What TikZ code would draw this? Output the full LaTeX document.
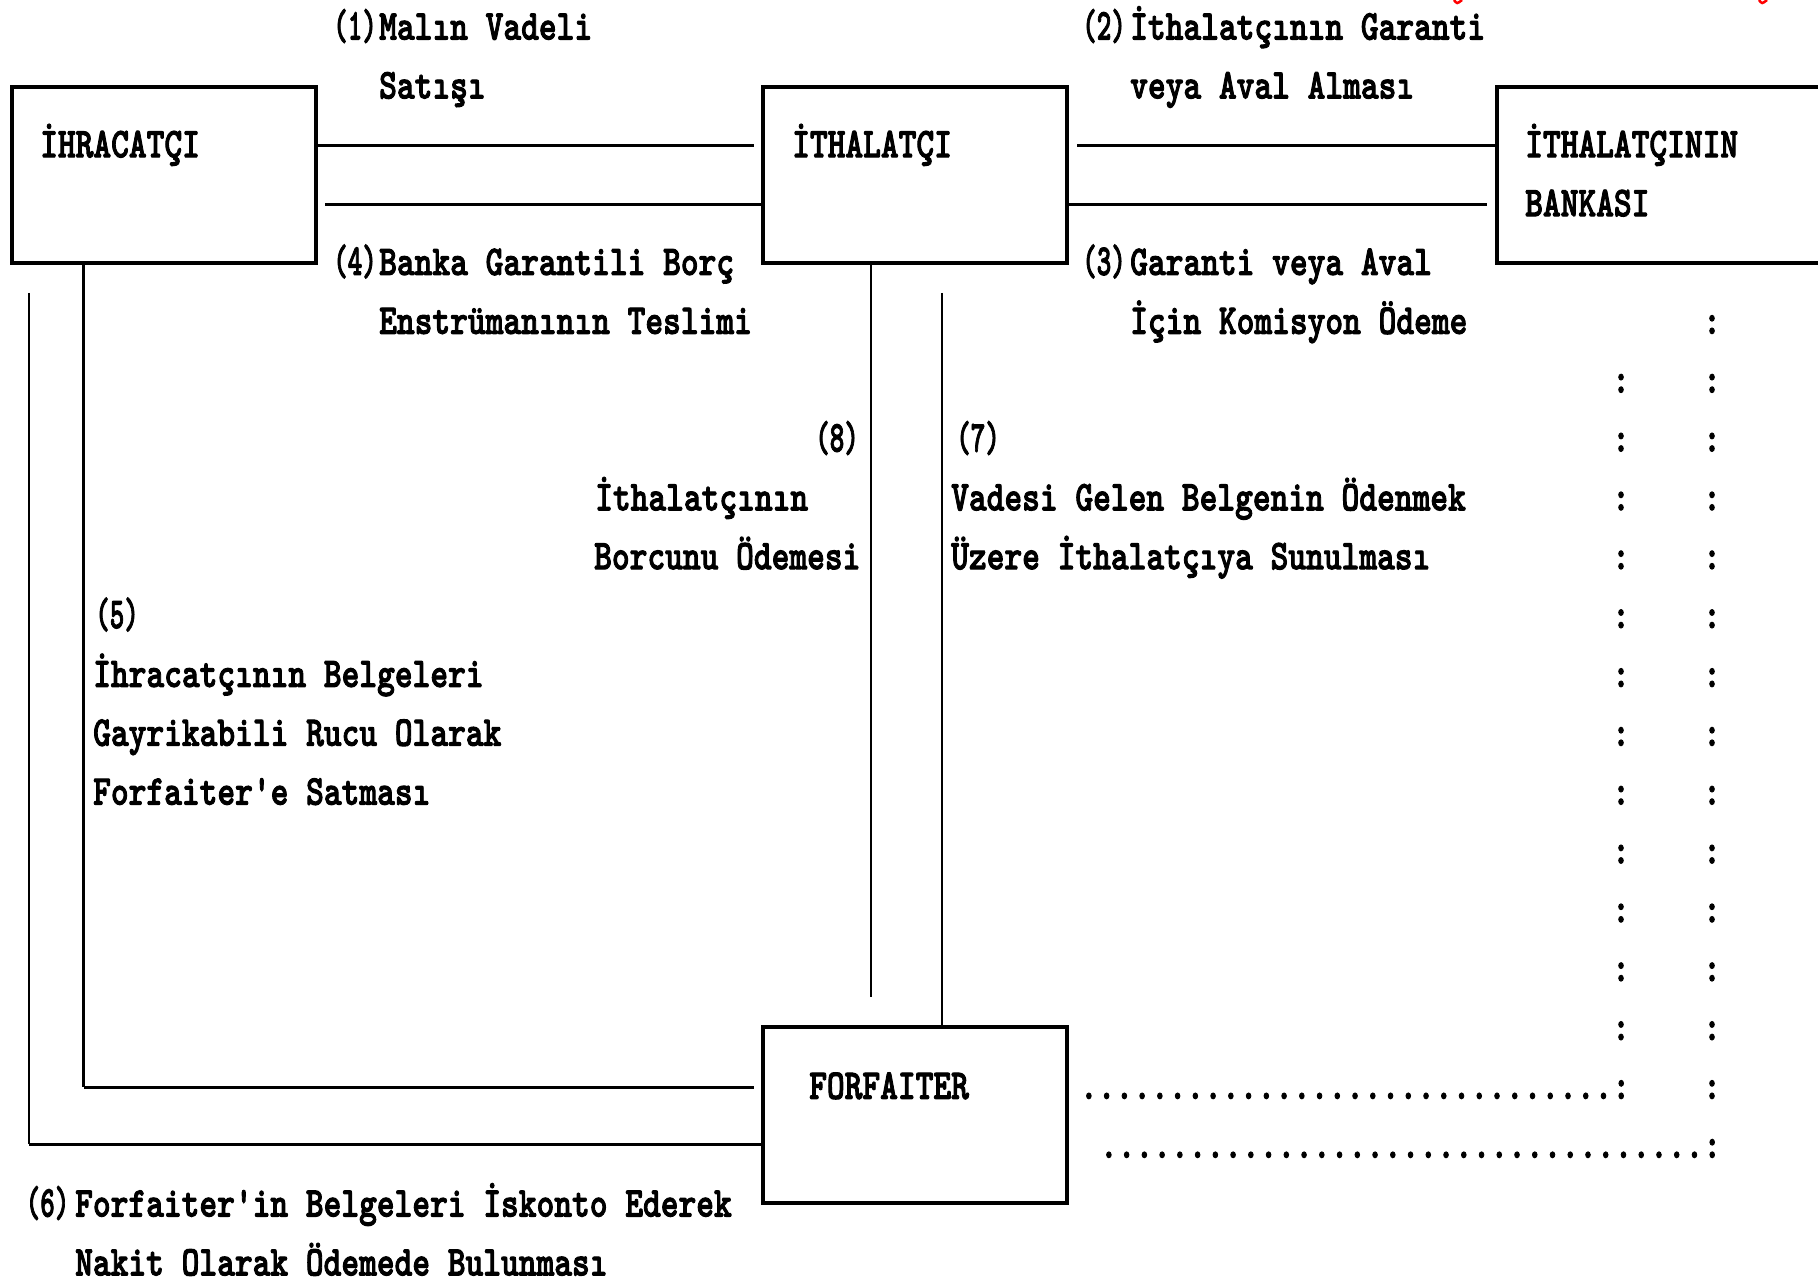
\documentclass[tikz,border=0pt]{standalone}
\usepackage{graphicx}
\usepackage{fontspec}
\setmonofont{lmmonolt10-bold}[Extension=.otf, FakeBold=2.5]
\newcommand{\mfont}{\fontsize{33.8pt}{40pt}\ttfamily\selectfont}
\newcommand{\Tx}[1]{\scalebox{1}[1.25]{\mfont #1}}
\newcommand{\Nm}[1]{\scalebox{0.82}[1.3]{\mfont(#1)}}
\begin{document}
\begin{tikzpicture}[x=1pt,y=-1pt]
\tikzset{
  box/.style={draw, line width=3.2pt, inner sep=0pt, minimum width=304pt, minimum height=176pt},
  conn/.style={line width=3pt},
  vconn/.style={line width=2.6pt},
  lbl/.style={inner sep=0pt, anchor=base west},
  colon/.style={inner sep=0pt, anchor=base},
}
\useasboundingbox (0,0) rectangle (1818,1281);
\fill[white] (0,0) rectangle (1818,1281);

% boxes
\node[box] (ihr) at (164,175) {};
\node[box] (ith) at (915,175) {};
\node[box, minimum width=325pt] (bank) at (1659.5,175) {};
\node[box] (ff) at (915,1115) {};

% box labels
\node[lbl] (tihr) at (40,157.2) {\Tx{İHRACATÇI}};
\node[lbl] (tith) at (792,157.2) {\Tx{İTHALATÇI}};
\node[lbl] (tbank1) at (1525,157.2) {\Tx{İTHALATÇININ}};
\node[lbl] (tbank2) at (1525,216.1) {\Tx{BANKASI}};
\node[lbl] (tff) at (809,1098.8) {\Tx{FORFAITER}};

% connectors
\coordinate (c1) at (754,146);
\draw[conn] (ihr.east |- c1) -- (c1);
\coordinate (c4) at (325,205);
\draw[conn] (c4) -- (ith.west |- c4);
\coordinate (c2) at (1077,146);
\draw[conn] (c2) -- (bank.west |- c2);
\coordinate (c3) at (1487,205);
\draw[conn] (ith.east |- c3) -- (c3);
\coordinate (c8) at (871,997);
\draw[vconn] (ith.south -| c8) -- (c8);
\coordinate (c7) at (942,293);
\draw[vconn] (c7) -- (ff.north -| c7);
\coordinate (c5a) at (83.5,1087);
\coordinate (c5b) at (754,1087);
\draw[vconn] (ihr.south -| c5a) -- (c5a);
\draw[conn] (c5a) -- (c5b);
\coordinate (c6a) at (29,293);
\coordinate (c6b) at (29,1144);
\draw[vconn] (c6a) -- (c6b);
\draw[conn] (c6b) -- (ff.west |- c6b);

% (1)
\node[lbl] (n1) at (333,39.5) {\Nm{1}};
\node[lbl] (t1a) at (379,39.5) {\Tx{Malın Vadeli}};
\node[lbl] (t1b) at (379,98.4) {\Tx{Satışı}};
% (2)
\node[lbl] (n2) at (1082,39.5) {\Nm{2}};
\node[lbl] (t2a) at (1130,39.5) {\Tx{İthalatçının Garanti}};
\node[lbl] (t2b) at (1130,98.4) {\Tx{veya Aval Alması}};
% (4)
\node[lbl] (n4) at (333,274.9) {\Nm{4}};
\node[lbl] (t4a) at (379,274.9) {\Tx{Banka Garantili Borç}};
\node[lbl] (t4b) at (379,333.8) {\Tx{Enstrümanının Teslimi}};
% (3)
\node[lbl] (n3) at (1082,274.9) {\Nm{3}};
\node[lbl] (t3a) at (1130,274.9) {\Tx{Garanti veya Aval}};
\node[lbl] (t3b) at (1130,333.8) {\Tx{İçin Komisyon Ödeme}};
% (8)
\node[lbl] (n8) at (815,451.5) {\Nm{8}};
\node[lbl] (t8a) at (595,510.3) {\Tx{İthalatçının}};
\node[lbl] (t8b) at (594,569.2) {\Tx{Borcunu Ödemesi}};
% (7)
\node[lbl] (n7) at (956,451.5) {\Nm{7}};
\node[lbl] (t7a) at (951,510.3) {\Tx{Vadesi Gelen Belgenin Ödenmek}};
\node[lbl] (t7b) at (951,569.2) {\Tx{Üzere İthalatçıya Sunulması}};
% (5)
\node[lbl] (n5) at (95,628.0) {\Nm{5}};
\node[lbl] (t5a) at (93,686.9) {\Tx{İhracatçının Belgeleri}};
\node[lbl] (t5b) at (93,745.7) {\Tx{Gayrikabili Rucu Olarak}};
\node[lbl] (t5c) at (93,804.6) {\Tx{Forfaiter'e Satması}};
% (6)
\node[lbl] (n6) at (25.5,1216.5) {\Nm{6}};
\node[lbl] (t6a) at (75,1216.5) {\Tx{Forfaiter'in Belgeleri İskonto Ederek}};
\node[lbl] (t6b) at (75,1275.4) {\Tx{Nakit Olarak Ödemede Bulunması}};

% dotted rows
\node[lbl] (d1) at (1079.8,1098.8) {\Tx{..............................:}};
\node[lbl] (d2) at (1099.8,1157.7) {\Tx{..................................:}};

% colon columns
\foreach \r in {5,...,18} {
  \node[colon] (rc\r) at (1712,39.5+58.85*\r) {\Tx{:}};
}
\foreach \r in {6,...,17} {
  \node[colon] (lc\r) at (1621,39.5+58.85*\r) {\Tx{:}};
}

% cut-off red marks at the top edge
\draw[red, line width=2.5pt] (1454,0) .. controls (1457,4) .. (1462,0);
\draw[red, line width=2.5pt] (1759,0) .. controls (1762,4) .. (1767,0);
\end{tikzpicture}
\end{document}
